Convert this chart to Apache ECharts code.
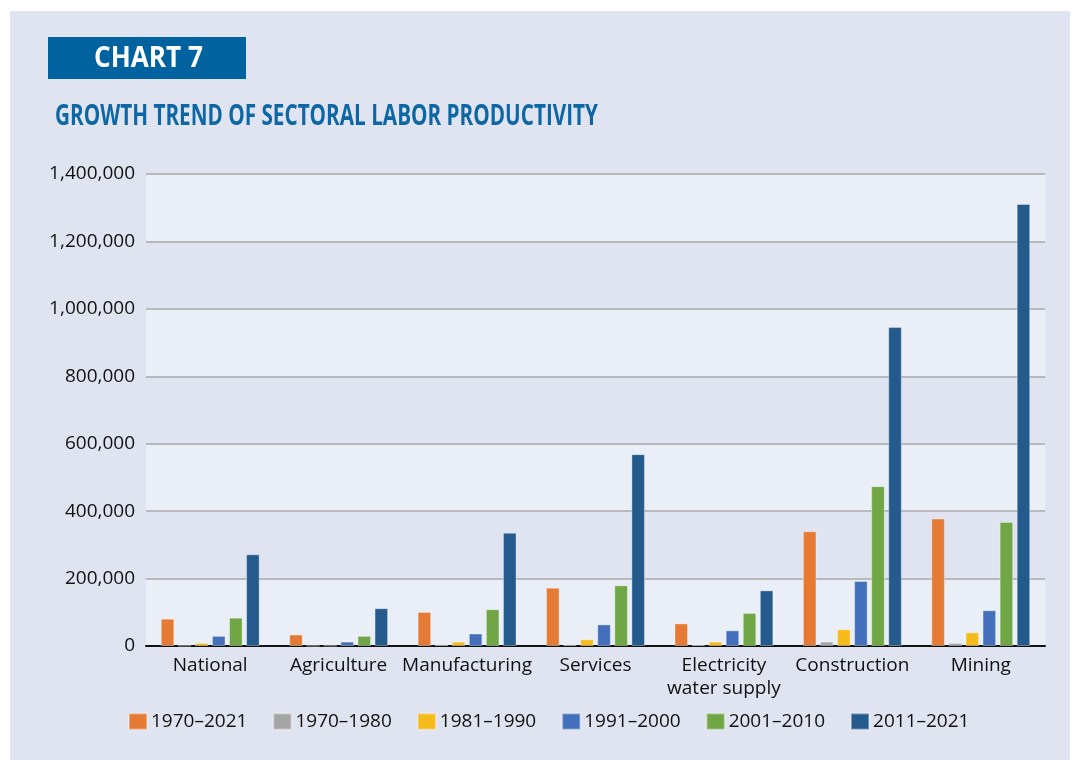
<!DOCTYPE html>
<html>
<head>
<meta charset="utf-8">
<script src="https://cdn.jsdelivr.net/npm/echarts@6/dist/echarts.min.js"></script>
<style>
  html, body { margin: 0; padding: 0; background: #ffffff; }
  #chart { width: 1078px; height: 760px; }
</style>
</head>
<body>
<div id="chart"></div>
<script>
// Sectors on the category axis
const sectors = ['National', 'Agriculture', 'Manufacturing', 'Services',
  'Electricity\nwater supply', 'Construction', 'Mining'];

// Period names for the legend
const periods = ['1970–2021', '1970–1980', '1981–1990', '1991–2000', '2001–2010', '2011–2021'];

// Labor productivity growth per sector, one array per period
const p1970_2021 = [81000, 34000, 101000, 173000, 67000, 340000, 378000];
const p1970_1980 = [1000, 500, 5000, 5000, 4000, 13000, 9000];
const p1981_1990 = [9000, 1000, 13000, 20000, 13000, 49500, 40500];
const p1991_2000 = [30000, 13000, 37000, 64000, 46500, 193000, 106000];
const p2001_2010 = [84000, 30000, 109000, 180000, 98000, 474000, 368000];
const p2011_2021 = [272000, 112000, 336000, 569000, 165000, 946000, 1311000];

// Value axis ticks
const yMin = 0, yMax = 1400000, yStep = 200000;

const seriesData = [p1970_2021, p1970_1980, p1981_1990, p1991_2000, p2001_2010, p2011_2021];
const colors = ['#e57a35', '#a5a5a5', '#f5bb1b', '#4470bb', '#70a645', '#255b8c'];

const baseFont = "'Open Sans', 'Noto Sans', sans-serif";
const headFont = "'Open Sans', 'Noto Sans', sans-serif";

// Condense bold heading text horizontally to the target width
const measureCtx = document.createElement('canvas').getContext('2d');
function condense(text, size, targetWidth) {
  measureCtx.font = 'bold ' + size + 'px ' + headFont;
  const w = measureCtx.measureText(text).width;
  return targetWidth / w;
}
const titleText = 'GROWTH TREND OF SECTORAL LABOR PRODUCTIVITY';
const badgeText = 'CHART 7';
const titleScale = condense(titleText, 29, 543);
const badgeScale = condense(badgeText, 28, 109);

const chart = echarts.init(document.getElementById('chart'), null, { renderer: 'canvas' });

chart.setOption({
  backgroundColor: '#ffffff',
  animation: false,
  color: colors,
  graphic: [
    { type: 'rect', z: -10, silent: true,
      shape: { x: 10, y: 11, width: 1060, height: 760 },
      style: { fill: '#e0e4f0' } },
    { type: 'rect', z: 5, silent: true,
      shape: { x: 48, y: 37, width: 198, height: 42 },
      style: { fill: '#0063a0' } },
    { type: 'text', z: 6, silent: true,
      x: 94, y: 59, scaleX: badgeScale,
      style: { text: badgeText, fill: '#ffffff', font: 'bold 28px ' + headFont,
               textVerticalAlign: 'middle' } },
    { type: 'text', z: 6, silent: true,
      x: 55, y: 117, scaleX: titleScale,
      style: { text: titleText, fill: '#0e67a5', font: 'bold 29px ' + headFont,
               textVerticalAlign: 'middle' } }
  ],
  grid: { left: 146, right: 33, top: 174, bottom: 114, containLabel: false },
  legend: {
    left: 128, top: 712, padding: 0,
    itemWidth: 18, itemHeight: 16, itemGap: 25,
    icon: 'rect',
    textStyle: { fontFamily: baseFont, fontSize: 19, color: '#111111', padding: [0, 0, 0, -1] },
    data: periods
  },
  xAxis: {
    type: 'category',
    data: sectors,
    axisTick: { show: false },
    axisLine: { lineStyle: { color: '#111111', width: 2 } },
    axisLabel: { interval: 0, fontFamily: baseFont, fontSize: 19, color: '#111111',
                 margin: 8, lineHeight: 23 }
  },
  yAxis: {
    type: 'value',
    min: yMin, max: yMax, interval: yStep,
    axisLine: { show: false },
    axisTick: { show: false },
    axisLabel: {
      fontFamily: baseFont, fontSize: 19, color: '#111111', margin: 11,
      formatter: v => v.toLocaleString('en-US')
    },
    splitLine: { lineStyle: { color: '#a8a8a8', width: 1.6 } },
    splitArea: { show: true, areaStyle: { color: ['#eaeef7', '#e0e4f0'] } }
  },
  series: periods.map((name, i) => ({
    name: name,
    type: 'bar',
    data: seriesData[i],
    barCategoryGap: '23%',
    barGap: '26%',
    itemStyle: { color: colors[i], borderColor: 'rgba(255,255,255,0.35)', borderWidth: 1 }
  }))
});
</script>
</body>
</html>
